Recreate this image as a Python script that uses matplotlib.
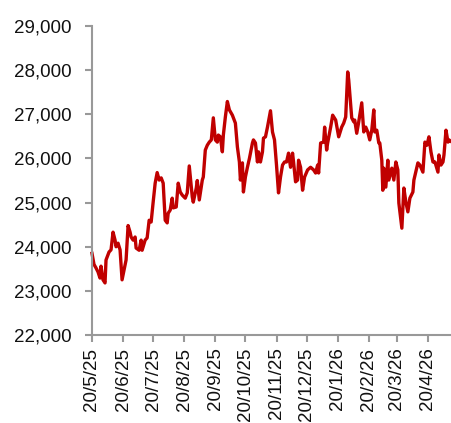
import pandas as pd
import matplotlib
matplotlib.use("Agg")
import matplotlib.pyplot as plt
import matplotlib.ticker as mticker

# ------------------------------------------------------------
# data
# ------------------------------------------------------------
DATES = [
    "2025-05-20", "2025-05-22", "2025-05-24", "2025-05-26", "2025-05-28", "2025-05-29",
    "2025-05-31", "2025-06-02", "2025-06-03", "2025-06-06", "2025-06-08", "2025-06-10",
    "2025-06-12", "2025-06-13", "2025-06-15", "2025-06-17", "2025-06-19", "2025-06-22",
    "2025-06-23", "2025-06-25", "2025-06-27", "2025-06-28", "2025-06-30", "2025-07-02",
    "2025-07-03", "2025-07-06", "2025-07-08", "2025-07-09", "2025-07-12", "2025-07-14",
    "2025-07-16", "2025-07-18", "2025-07-19", "2025-07-20", "2025-07-22", "2025-07-24",
    "2025-07-26", "2025-07-28", "2025-07-30", "2025-08-01", "2025-08-03", "2025-08-04",
    "2025-08-06", "2025-08-08", "2025-08-09", "2025-08-12", "2025-08-14", "2025-08-16",
    "2025-08-18", "2025-08-21", "2025-08-23", "2025-08-25", "2025-08-28", "2025-08-29",
    "2025-09-01", "2025-09-02", "2025-09-04", "2025-09-07", "2025-09-08", "2025-09-10",
    "2025-09-12", "2025-09-14", "2025-09-16", "2025-09-18", "2025-09-20", "2025-09-22",
    "2025-09-23", "2025-09-25", "2025-09-27", "2025-09-28", "2025-09-30", "2025-10-02",
    "2025-10-04", "2025-10-07", "2025-10-10", "2025-10-12", "2025-10-14", "2025-10-15",
    "2025-10-17", "2025-10-18", "2025-10-20", "2025-10-22", "2025-10-24", "2025-10-27",
    "2025-10-28", "2025-10-30", "2025-11-01", "2025-11-02", "2025-11-04", "2025-11-06",
    "2025-11-07", "2025-11-09", "2025-11-11", "2025-11-14", "2025-11-16", "2025-11-18",
    "2025-11-20", "2025-11-22", "2025-11-24", "2025-11-26", "2025-11-28", "2025-11-30",
    "2025-12-02", "2025-12-04", "2025-12-06", "2025-12-07", "2025-12-09", "2025-12-11",
    "2025-12-12", "2025-12-14", "2025-12-16", "2025-12-18", "2025-12-21", "2025-12-24",
    "2025-12-27", "2025-12-29", "2025-12-31", "2026-01-01", "2026-01-03", "2026-01-06",
    "2026-01-07", "2026-01-09", "2026-01-10", "2026-01-13", "2026-01-15", "2026-01-18",
    "2026-01-21", "2026-01-24", "2026-01-26", "2026-01-28", "2026-01-30", "2026-01-31",
    "2026-02-03", "2026-02-05", "2026-02-06", "2026-02-08", "2026-02-10", "2026-02-13",
    "2026-02-15", "2026-02-17", "2026-02-19", "2026-02-21", "2026-02-23", "2026-02-25",
    "2026-02-26", "2026-02-28", "2026-03-02", "2026-03-03", "2026-03-05", "2026-03-06",
    "2026-03-07", "2026-03-09", "2026-03-11", "2026-03-12", "2026-03-15", "2026-03-17",
    "2026-03-19", "2026-03-21", "2026-03-22", "2026-03-25", "2026-03-27", "2026-03-29",
    "2026-03-31", "2026-04-02", "2026-04-05", "2026-04-06", "2026-04-10", "2026-04-12",
    "2026-04-15", "2026-04-17", "2026-04-19", "2026-04-21", "2026-04-23", "2026-04-25",
    "2026-04-27", "2026-04-30", "2026-05-01", "2026-05-03", "2026-05-05", "2026-05-06",
    "2026-05-08", "2026-05-10", "2026-05-11", "2026-05-14",
]

VALUES = [
    23850, 23600, 23520, 23430, 23290, 23560,
    23250, 23180, 23700, 23880, 23930, 24330,
    24150, 24000, 24080, 23930, 23250, 23590,
    23700, 24480, 24330, 24220, 24150, 24220,
    23970, 23920, 24150, 23920, 24150, 24200,
    24600, 24560, 24790, 25010, 25440, 25680,
    25510, 25560, 25440, 24600, 24540, 24760,
    24830, 25100, 24880, 24900, 25440, 25240,
    25170, 25100, 25220, 25830, 25130, 25010,
    25330, 25500, 25060, 25510, 25580, 26190,
    26300, 26370, 26420, 26920, 26420, 26370,
    26530, 26490, 26150, 26530, 26940, 27290,
    27100, 26980, 26800, 26260, 25920, 25510,
    25900, 25240, 25580, 25800, 26000, 26350,
    26420, 26350, 25920, 26150, 25920, 26150,
    26460, 26490, 26710, 27080, 26600, 26420,
    25850, 25220, 25580, 25850, 25920, 25920,
    26120, 25800, 26120, 25920, 25470, 25510,
    25960, 25800, 25280, 25580, 25740, 25800,
    25740, 25670, 25850, 25670, 26350, 26370,
    26710, 26190, 26350, 26710, 26980, 26870,
    26490, 26710, 26800, 26940, 27960, 27780,
    26920, 26830, 26870, 26570, 26830, 27260,
    26600, 26710, 26600, 26420, 26640, 27100,
    26600, 26640, 26350, 26350, 25960, 25280,
    25780, 25350, 25960, 25510, 25780, 25510,
    25920, 25740, 24990, 24420, 25330, 25010,
    24790, 25100, 25240, 25510, 25900, 25850,
    25690, 26370, 26300, 26490, 26150, 25920,
    25920, 25690, 26080, 25850, 25920, 26080,
    26640, 26370, 26420, 26370,
]

TICK_DATES = [
    "2025-05-20", "2025-06-20", "2025-07-20", "2025-08-20", "2025-09-20", "2025-10-20",
    "2025-11-20", "2025-12-20", "2026-01-20", "2026-02-20", "2026-03-20", "2026-04-20",
]
TICK_LABELS = [
    "20/5/25", "20/6/25", "20/7/25", "20/8/25", "20/9/25", "20/10/25",
    "20/11/25", "20/12/25", "20/1/26", "20/2/26", "20/3/26", "20/4/26",
]

Y_TICKS = [22000, 23000, 24000, 25000, 26000, 27000, 28000, 29000]

LINE = "#C00000"
AXIS = "#999999"

plt.rcParams["font.family"] = ["Liberation Sans", "DejaVu Sans"]


def main():
    x = pd.to_datetime(DATES)
    ticks = pd.to_datetime(TICK_DATES)

    fig = plt.figure(figsize=(4.52, 4.23), dpi=100)
    ax = fig.add_axes([0.2035, 0.208, 0.7965, 0.7305])

    ax.plot(x, VALUES, color=LINE, linewidth=2.4, solid_joinstyle="round", clip_on=False)

    ax.set_xlim(x[0], x[-1])
    ax.set_ylim(22000, 29000)
    ax.set_yticks(Y_TICKS)
    ax.yaxis.set_major_formatter(mticker.FuncFormatter(lambda v, p: f"{int(v):,}"))

    ax.set_xticks(ticks)
    ax.set_xticklabels(TICK_LABELS, rotation=90)

    for side in ("top", "right"):
        ax.spines[side].set_visible(False)
    for side in ("left", "bottom"):
        ax.spines[side].set_color(AXIS)
        ax.spines[side].set_linewidth(1.5)

    ax.tick_params(axis="both", colors=AXIS, length=5, width=1.5,
                   labelcolor="#111111", labelsize=13.5)
    ax.tick_params(axis="y", pad=10)
    ax.tick_params(axis="x", pad=4)

    fig.savefig("out.png", dpi=100)


if __name__ == "__main__":
    main()
